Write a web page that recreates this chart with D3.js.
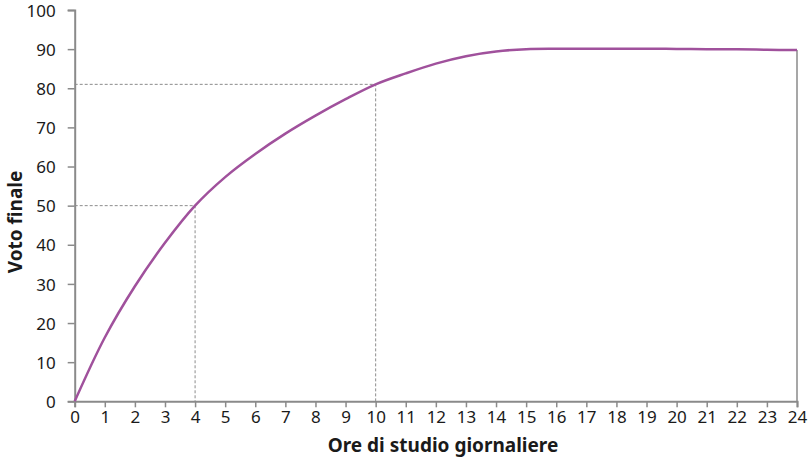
<!DOCTYPE html>
<html>
<head>
<meta charset="utf-8">
<script src="https://cdn.jsdelivr.net/npm/d3@7"></script>
<style>
  body { margin: 0; background: #fff; }
  svg { display: block; font-family: "Noto Sans", "Open Sans", sans-serif; }
</style>
</head>
<body>
<svg id="chart" width="810" height="472"></svg>
<script>
// Data
const hours = [0, 1, 2, 3, 4, 5, 6, 7, 8, 9, 10, 11, 12, 13, 14, 15, 16, 17, 18, 19, 20, 21, 22, 23, 24];
const grade = [0, 16.3, 29.4, 40.5, 50, 57.3, 63.2, 68.4, 73, 77.2, 81, 83.8, 86.3, 88.2, 89.4, 90, 90.1, 90.1, 90.1, 90.1, 90.05, 90, 89.95, 89.85, 89.75];
const xTicks = d3.range(0, 25, 1);
const yTicks = [0, 10, 20, 30, 40, 50, 60, 70, 80, 90, 100];
const guides = [{ x: 4, y: 50 }, { x: 10, y: 81 }];
const xTitle = "Ore di studio giornaliere";
const yTitle = "Voto finale";

const svg = d3.select("#chart");
const x = d3.scaleLinear().domain([0, 24]).range([74.7, 797]);
const y = d3.scaleLinear().domain([0, 100]).range([401.3, 10]);
const axisColor = "#8a8a8a";

// Dashed guides
guides.forEach(g => {
  svg.append("path")
    .attr("d", `M${x(0)},${y(g.y)}H${x(g.x)}V${y(0)}`)
    .attr("fill", "none")
    .attr("stroke", "#8c8c8c")
    .attr("stroke-width", 1)
    .attr("stroke-dasharray", "3,2");
});

// Right edge line at x=24
svg.append("line")
  .attr("x1", x(24)).attr("x2", x(24))
  .attr("y1", y(0)).attr("y2", y(grade[grade.length - 1]))
  .attr("stroke", axisColor).attr("stroke-width", 1.5);

// Axes
const xAxis = svg.append("g")
  .attr("transform", `translate(0,${y(0)})`)
  .call(d3.axisBottom(x).tickValues(xTicks).tickSize(6).tickPadding(4).tickFormat(d3.format("d")));
const yAxis = svg.append("g")
  .attr("transform", `translate(${x(0)},0)`)
  .call(d3.axisLeft(y).tickValues(yTicks).tickSize(7).tickPadding(12).tickFormat(d3.format("d")));

[xAxis, yAxis].forEach(a => {
  a.select(".domain").attr("stroke", axisColor).attr("stroke-width", 2);
  a.selectAll(".tick line").attr("stroke", axisColor).attr("stroke-width", 1.5);
  a.selectAll(".tick text").attr("fill", "#1a1a1a").attr("font-size", 17)
    .attr("font-family", "'Noto Sans', sans-serif");
});
yAxis.selectAll(".tick text").attr("dy", "0.36em");

// Curve
const line = d3.line()
  .x((d, i) => x(hours[i]))
  .y(d => y(d))
  .curve(d3.curveCatmullRom.alpha(0.5));
svg.append("path")
  .datum(grade)
  .attr("d", line)
  .attr("fill", "none")
  .attr("stroke", "#a0519c")
  .attr("stroke-width", 2.5);

// Titles
svg.append("text")
  .attr("x", 443).attr("y", 452)
  .attr("text-anchor", "middle")
  .attr("font-size", 19).attr("font-weight", "bold").attr("fill", "#1a1a1a")
  .text(xTitle);
svg.append("text")
  .attr("transform", `translate(22,222) rotate(-90)`)
  .attr("text-anchor", "middle")
  .attr("font-size", 19).attr("font-weight", "bold").attr("fill", "#1a1a1a")
  .text(yTitle);
</script>
</body>
</html>
